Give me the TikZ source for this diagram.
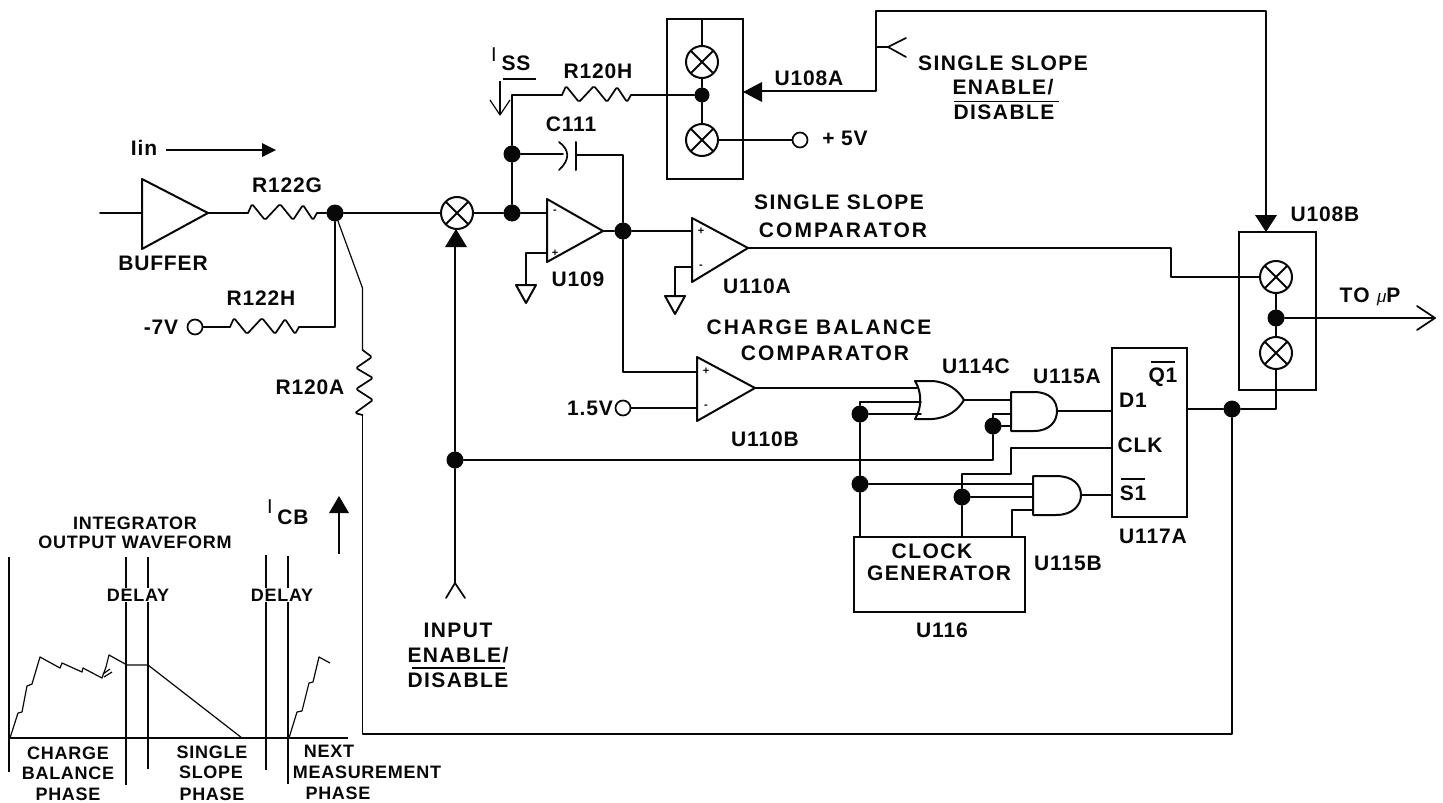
\documentclass[tikz,border=0pt]{standalone}
\usepackage{fontspec}
\setmainfont{Liberation Sans}
\newfontfamily\labf{Liberation Sans}[LetterSpace=4]
\newfontfamily\labm{Liberation Sans}[LetterSpace=7]
\newfontfamily\labw{Liberation Sans}[LetterSpace=10]
\usetikzlibrary{arrows.meta,calc}
\definecolor{ink}{gray}{0.03}
\tikzset{
  wire/.style={draw=ink,line width=1.7pt,line join=round,line cap=round},
  thin wire/.style={draw=ink,line width=1.2pt,line join=round},
  gate/.style={draw=ink,line width=2pt,line join=round},
  jn/.style={circle,fill=ink,inner sep=0pt,minimum size=17pt},
  term/.style={circle,draw=ink,line width=1.7pt,fill=white,inner sep=0pt,minimum size=15pt},
  xorc/.style={circle,draw=ink,line width=2pt,inner sep=0pt,minimum size=32pt,
    path picture={\draw[ink,line width=2pt]
      (path picture bounding box.south west)--(path picture bounding box.north east)
      (path picture bounding box.north west)--(path picture bounding box.south east);}},
  lab/.style={inner sep=0pt,text=ink,font=\labf\bfseries\fontsize{21}{24}\selectfont},
  labmid/.style={inner sep=0pt,text=ink,font=\labm\bfseries\fontsize{21}{24}\selectfont},
  labwide/.style={inner sep=0pt,text=ink,font=\labw\bfseries\fontsize{21}{24}\selectfont},
  wlab/.style={inner sep=0pt,text=ink,font=\labf\bfseries\fontsize{18}{20}\selectfont},
  slab/.style={inner sep=0pt,text=ink,font=\labf\bfseries\fontsize{11}{12}\selectfont},
  ilab/.style={inner sep=0pt,text=ink,font=\labf\fontsize{20}{22}\selectfont},
  solidtip/.style={draw=none,fill=ink},
  resz/.pic={
    \draw[wire,rounded corners=1.5pt] (0,0)--(4,-9)--(17,7)--(32,-9)--(45,7)--(55,-8)--(65,7)--(69,0);
    \coordinate (-a) at (0,0); \coordinate (-b) at (69,0);
  }
}
\begin{document}
\begin{tikzpicture}[x=1pt,y=-1pt]
\useasboundingbox (0,0) rectangle (1443,803);
\fill[white] (0,0) rectangle (1443,803);

% ---- junctions, switches, terminals
\node[jn] (j1) at (335,213) {};
\node[xorc] (xmain) at (457,213) {};
\node[jn] (j2) at (512,213) {};
\node[jn] (j3) at (512,154) {};
\node[jn] (j4) at (623,231) {};
\node[jn] (j5) at (455,460) {};
\node[jn,minimum size=15pt] (j6) at (702,95) {};
\node[xorc] (xa1) at (702,62) {};
\node[xorc] (xa2) at (702,140) {};
\node[term] (t5v) at (800,140) {};
\node[xorc] (xb1) at (1276,277) {};
\node[xorc] (xb2) at (1276,353) {};
\node[jn] (j7) at (1276,318) {};
\node[jn] (j8) at (1232,409) {};
\node[term] (tm7) at (195,327) {};
\node[term] (t15) at (623,408) {};
\node[jn] (j9) at (860,414) {};
\node[jn] (j10) at (860,484) {};
\node[jn] (j11) at (993,426) {};
\node[jn] (j12) at (962,497) {};

% ---- boxes
\node[draw=ink,line width=2pt,minimum width=76pt,minimum height=160pt,inner sep=0pt] (u108a) at (705,99) {};
\node[draw=ink,line width=2pt,minimum width=77pt,minimum height=158pt,inner sep=0pt] (u108b) at (1277.5,311) {};
\node[draw=ink,line width=2pt,minimum width=75pt,minimum height=169pt,inner sep=0pt] (ff) at (1149.5,432.5) {};
\node[draw=ink,line width=2.6pt,minimum width=171pt,minimum height=75pt,inner sep=0pt] (clk) at (939.5,574.5) {};

% ---- amplifiers
\coordinate (bufin) at (100,213);
\coordinate (bufl) at (142,213);
\coordinate (buft) at (208,213);
\draw[gate] (142,179)--(208,213)--(142,249)--cycle;
\draw[gate] (547,199)--(603,231)--(547,262)--cycle;
\draw[gate] (692,218)--(748,248)--(692,282)--cycle;
\draw[gate] (697,357)--(755,388)--(697,421)--cycle;

\node[slab] (pm1) at (555,212) {-};
\node[slab] (pm2) at (555,253) {+};
\node[slab] (pm3) at (701,231) {+};
\node[slab] (pm4) at (701,267) {-};
\node[slab] (pm5) at (706,371) {+};
\node[slab] (pm6) at (706,407) {-};

% ---- gates
\draw[gate] (915,381)--(932,381) .. controls (948,382) and (958,390) .. (964,400)
  .. controls (958,410) and (948,418) .. (932,419)--(915,419)
  .. controls (922,408) and (922,392) .. (915,381)--cycle;
\draw[gate] (1011,392)--(1034,392) .. controls (1050,392) and (1057,401) .. (1057,411)
  .. controls (1057,421) and (1050,431) .. (1034,431)--(1011,431)--cycle;
\draw[gate] (1033,476)--(1056,476) .. controls (1073,476) and (1081,485) .. (1081,495)
  .. controls (1081,505) and (1073,515) .. (1056,515)--(1033,515)--cycle;

% ---- resistors
\pic (r1) at (248,213) {resz};
\pic (r2) at (230,327) {resz};
\pic (r3) at (562,95) {resz};
\draw[wire,rounded corners=1.5pt] (362.5,350)--(372,357)--(356,368)--(373,378)--(356,389)--(373,400)--(355,413)--(362.5,415);
\coordinate (r4a) at (362.5,350);
\coordinate (r4b) at (362.5,415);

% ---- wiring, left part
\draw[wire] (bufin)--(bufl);
\draw[wire] (buft)--(r1-a);
\draw[wire] (r1-b)--(j1);
\draw[wire] (j1)--(xmain);
\draw[wire] (xmain)--(j2);
\draw[wire] (j2)--(547,213);
\draw[wire] (tm7)--(r2-a);
\draw[wire] (r2-b)--(335,327)--(j1);
\draw[thin wire] (j1)--(362.5,288)--(r4a);
\draw[wire] (r4b)--(362.5,734)--(1232,734)--(j8);

% ---- enable input
\coordinate (forkc) at (455,583);
\coordinate (forka) at (446,598);
\coordinate (forkb) at (465,598);
\draw[wire] (455,247)--(j5)--(forkc);
\draw[wire] (forka)--(forkc)--(forkb);
\fill[solidtip] (456,229)--(467,247)--(445,247)--cycle;
\draw[wire] (j5)--(993,460)--(j11);

% ---- integrator feedback
\draw[wire] (j2)--(j3)--(512,95)--(r3-a);
\draw[wire] (r3-b)--(j6);
\draw[wire] (j3)--(563,154);
\draw[wire] (559,142) .. controls (570,150) and (570,160) .. (559,170);
\draw[wire,line width=2pt] (576,142)--(576,170);
\draw[wire] (576,155)--(623,155)--(j4);
\coordinate (u109o) at (603,231);
\draw[wire] (u109o)--(j4);
\draw[wire] (j4)--(692,231);
\draw[wire] (547,253)--(526,253)--(526,285);
\draw[gate] (516,285)--(536,285)--(526,303)--cycle;
\draw[wire] (692,267)--(675,267)--(675,296);
\draw[gate] (665,296)--(685,296)--(675,314)--cycle;

% ---- U108A
\draw[wire] (702,19)--(xa1);
\draw[wire] (xa1)--(j6);
\draw[wire] (j6)--(xa2);
\draw[wire] (xa2)--(t5v);
\coordinate (sf) at (876,47);
\coordinate (sfc) at (888,47);
\draw[wire] (762,91)--(876,91)--(sf)--(876,11)--(1266,11)--(1266,215);
\draw[wire] (sf)--(sfc);
\draw[wire] (906,38)--(sfc)--(906,57);
\fill[solidtip] (743,92)--(762,82)--(762,102)--cycle;
\fill[solidtip] (1266,232)--(1255,215)--(1277,215)--cycle;

% ---- U108B and output
\draw[wire] (748,248)--(1171,248)--(1171,277)--(xb1);
\draw[wire] (xb1)--(j7);
\draw[wire] (j7)--(xb2);
\coordinate (outt) at (1435,318);
\draw[wire] (j7)--(outt);
\draw[wire] (1417,306)--(outt)--(1417,330);
\draw[wire] (xb2)--(1276,409)--(j8);
\draw[wire] (j8)--(1187,409);

% ---- charge balance path
\draw[wire] (j4)--(623,372)--(697,372);
\draw[wire] (t15)--(697,408);
\draw[wire] (755,388)--(917,388);
\draw[wire] (j9)--(860,402)--(921,402);
\draw[wire] (j9)--(921,414);
\draw[wire] (j9)--(j10);
\draw[wire] (j10)--(860,537);
\draw[wire] (j10)--(1033,484);
\draw[wire] (964,400)--(1011,400);
\draw[wire] (j11)--(1011,426);
\draw[wire] (993,426)--(993,414)--(1011,414);
\draw[wire] (1057,411)--(1112,411);
\draw[wire] (1112,448)--(1011,448)--(1011,474)--(962,474)--(j12);
\draw[wire] (j12)--(962,537);
\draw[wire] (j12)--(1033,497);
\draw[wire] (1012,537)--(1012,510)--(1033,510);
\draw[wire] (1081,495)--(1112,495);

% ---- current arrows
\draw[thin wire] (166,150)--(262,150);
\fill[solidtip] (276,150)--(262,143)--(262,157)--cycle;
\draw[thin wire] (500,81)--(500,115);
\draw[thin wire] (490,100)--(500,115)--(510,100);
\draw[thin wire] (503,79)--(536,79);
\draw[line width=2.8pt,draw=ink] (339,554)--(339,513);
\fill[solidtip] (339,496)--(349,513)--(329,513)--cycle;

% ---- waveform
\draw[thin wire] (9,557)--(9,772);
\draw[thin wire] (126,557)--(126,785);
\draw[thin wire] (148,557)--(148,769);
\draw[thin wire] (266,555)--(266,770);
\draw[thin wire] (288,556)--(288,784);
\draw[thin wire] (10,738)--(348,738);
\draw[thin wire] (10,738)--(18,713)--(22,712)--(27,686)--(32,684)--(40,657)--(60,668)--(62,663)--(82,672)--(83,668)--(102,678)--(106,667)--(109,655)--(127,665)--(148,665)--(242,738);
\draw[thin wire] (289,738)--(297,712)--(302,711)--(309,683)--(313,682)--(319,657)--(330,663);
\draw[thin wire] (103,674)--(110,669) (104,677)--(112,672);

% ---- labels
\node[lab] (tIin) at (144,148) {Iin};
\node[lab] (tbuf) at (163,263) {BUFFER};
\node[lab] (tr1) at (287,185) {R122G};
\node[lab] (tr2) at (261,298) {R122H};
\node[lab] (tm7v) at (161,327) {-7V};
\node[lab] (tr4) at (310,387) {R120A};
\node[ilab] (tIs) at (494,55) {I};
\node[lab] (tss) at (516,63) {SS};
\node[lab] (tr3) at (598,71) {R120H};
\node[lab] (tc) at (571,124) {C111};
\node[lab] (tu108a) at (809,78) {U108A};
\node[lab] (t5) at (845,138) {+ 5V};
\node[labmid] (ts1) at (1003,63) {SINGLE SLOPE};
\node[labmid] (ts2) at (1003,87) {ENABLE/};
\node[labmid] (ts3) at (1004,112) {DISABLE};
\draw[thin wire] (954,101.5)--(1059,101.5);
\node[lab] (tu109) at (578,279) {U109};
\node[lab] (tu110a) at (757,286) {U110A};
\node[labmid] (tsc1) at (839,202) {SINGLE SLOPE};
\node[labwide] (tsc2) at (843,230) {COMPARATOR};
\node[labwide] (tcb1) at (819,327) {CHARGE BALANCE};
\node[labwide] (tcb2) at (825,353) {COMPARATOR};
\node[lab] (t15v) at (590,408) {1.5V};
\node[lab] (tu110b) at (765,439) {U110B};
\node[lab] (tu114) at (976,366) {U114C};
\node[lab] (tu115a) at (1067,376) {U115A};
\node[lab] (td1) at (1133,400) {D1};
\node[lab] (tq1) at (1163,377) {Q1};
\draw[thin wire] (1151,362)--(1175,362);
\node[lab] (tclk) at (1140,445) {CLK};
\node[lab] (ts1b) at (1133,493) {S1};
\draw[thin wire] (1121,479)--(1145,479);
\node[lab] (tu117) at (1153,536) {U117A};
\node[labmid] (tclock) at (932,551) {CLOCK};
\node[labmid] (tgen) at (939,573) {GENERATOR};
\node[lab] (tu115b) at (1068,563) {U115B};
\node[lab] (tu116) at (942,630) {U116};
\node[lab] (tu108b) at (1325,214) {U108B};
\node[labmid] (tmu) at (1370,297) {TO {\normalfont\itshape\fontsize{17}{20}\selectfont μ}P};
\node[labmid] (ti1) at (458,630) {INPUT};
\node[labmid] (ti2) at (458,655) {ENABLE/};
\node[labmid] (ti3) at (458,680) {DISABLE};
\draw[thin wire] (412,668)--(505,668);
\node[ilab] (tIc) at (270,507) {I};
\node[lab] (tcb) at (293,517) {CB};
\node[wlab] (tw1) at (135,523) {INTEGRATOR};
\node[wlab] (tw2) at (135,542) {OUTPUT WAVEFORM};
\node[wlab,fill=white,inner sep=1pt] (td1l) at (138,595) {DELAY};
\node[wlab,fill=white,inner sep=1pt] (td2l) at (282,595) {DELAY};
\node[wlab] (tp1) at (68,753) {CHARGE};
\node[wlab] (tp2) at (68,773) {BALANCE};
\node[wlab] (tp3) at (68,794) {PHASE};
\node[wlab] (tp4) at (212,752) {SINGLE};
\node[wlab] (tp5) at (211,772) {SLOPE};
\node[wlab] (tp6) at (212,794) {PHASE};
\node[wlab] (tp7) at (329,751) {NEXT};
\node[wlab] (tp8) at (367,772) {MEASUREMENT};
\node[wlab] (tp9) at (338,793) {PHASE};
\end{tikzpicture}
\end{document}
